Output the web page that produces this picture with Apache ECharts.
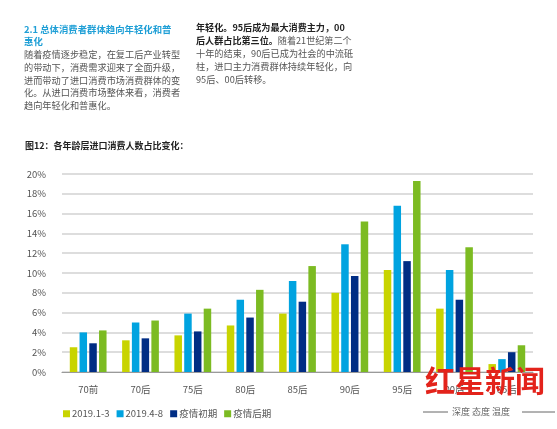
<!DOCTYPE html>
<html><head><meta charset="utf-8">
<script src="https://cdn.jsdelivr.net/npm/echarts@6/dist/echarts.min.js"></script>
<style>html,body{margin:0;padding:0;background:#fff}#c{width:557px;height:429px}</style>
</head><body><div id="c"></div>
<script>
const categories = ['70前','70后','75后','80后','85后','90后','95后','00后','05后'];
const s2019a = [2.5, 3.2, 3.7, 4.7, 5.9, 8.0, 10.3, 6.4, 0.8];
const s2019b = [4.0, 5.0, 5.9, 7.3, 9.2, 12.9, 16.8, 10.3, 1.3];
const sEarly = [2.9, 3.4, 4.1, 5.5, 7.1, 9.7, 11.2, 7.3, 2.0];
const sLate  = [4.2, 5.2, 6.4, 8.3, 10.7, 15.2, 19.3, 12.6, 2.7];
const seriesNames = ['2019.1-3','2019.4-8','疫情初期','疫情后期'];
const colors = ['#c8d400','#00a3e0','#002d84','#7cbb22'];

const leftLines = ['随着疫情逐步稳定，在复工后产业转型','的带动下，消费需求迎来了全面升级，','进而带动了进口消费市场消费群体的变','化。从进口消费市场整体来看，消费者','趋向年轻化和普惠化。'];
const rightLines = ['十年的结束，90后已成为社会的中流砥','柱，进口主力消费群体持续年轻化，向','95后、00后转移。'];

const CJK = '"Noto Sans CJK SC","Noto Sans",sans-serif';
const chart = echarts.init(document.getElementById('c'));
const graphics = [];
function txt(x,y,text,size,fill,weight){
  graphics.push({type:'text',x:x,y:y,z:10,style:{text:text,font:(weight||'normal')+' '+size+'px '+CJK,fill:fill,textVerticalAlign:'middle'}});
}
txt(24,29,'2.1 总体消费者群体趋向年轻化和普','9.4','#1f9fd6','bold');
txt(24,41,'惠化','9.4','#1f9fd6','bold');
leftLines.forEach((l,i)=>txt(24,55+i*12.6,l,'9.2','#555'));
txt(196,28,'年轻化。95后成为最大消费主力，00','9.1','#222','bold');
graphics.push({type:'text',x:196,y:41,z:10,style:{text:'{b|后人群占比第三位。}{n|随着21世纪第二个}',textVerticalAlign:'middle',
  rich:{b:{font:'bold 9.1px '+CJK,fill:'#222'},n:{font:'normal 9.1px '+CJK,fill:'#555'}}}});
rightLines.forEach((l,i)=>txt(196,54+i*13,l,'9.2','#555'));
txt(25,146,'图12：各年龄层进口消费人数占比变化：','9','#222','bold');
// watermark
graphics.push({type:'text',x:425,y:381,z:20,style:{text:'红星新闻',font:'bold 30px "Noto Sans CJK SC",serif',fill:'#e3231b',textVerticalAlign:'middle'}});
graphics.push({type:'line',z:20,shape:{x1:423,y1:412,x2:448,y2:412},style:{stroke:'#666',lineWidth:1}});
graphics.push({type:'line',z:20,shape:{x1:522,y1:412,x2:555,y2:412},style:{stroke:'#666',lineWidth:1}});
txt(452,412,'深度 态度 温度','9','#666');

const data = [s2019a,s2019b,sEarly,sLate];
chart.setOption({
  animation:false,
  backgroundColor:'#fff',
  textStyle:{fontFamily:CJK},
  grid:{left:62,right:24,top:174,bottom:57},
  legend:{left:58,top:404,icon:'rect',itemWidth:7,itemHeight:7,itemGap:7,
    textStyle:{fontSize:9.5,color:'#555',fontFamily:CJK,padding:[0,0,0,-3]},data:seriesNames},
  xAxis:{type:'category',data:categories,
    axisLine:{lineStyle:{color:'#9a9a9a',width:1.2}},axisTick:{show:false},
    axisLabel:{fontSize:9.5,color:'#555',margin:13}},
  yAxis:{type:'value',min:0,max:20,interval:2,
    axisLabel:{formatter:'{value}%',fontSize:9.5,color:'#555',margin:16},
    axisLine:{show:false},axisTick:{show:false},
    splitLine:{lineStyle:{color:'#d2d2d2',width:1.5}}},
  series:data.map((d,i)=>({name:seriesNames[i],type:'bar',data:d,barWidth:7.5,barGap:'30%',
    itemStyle:{color:colors[i]}})),
  graphic:graphics
});
</script></body></html>
